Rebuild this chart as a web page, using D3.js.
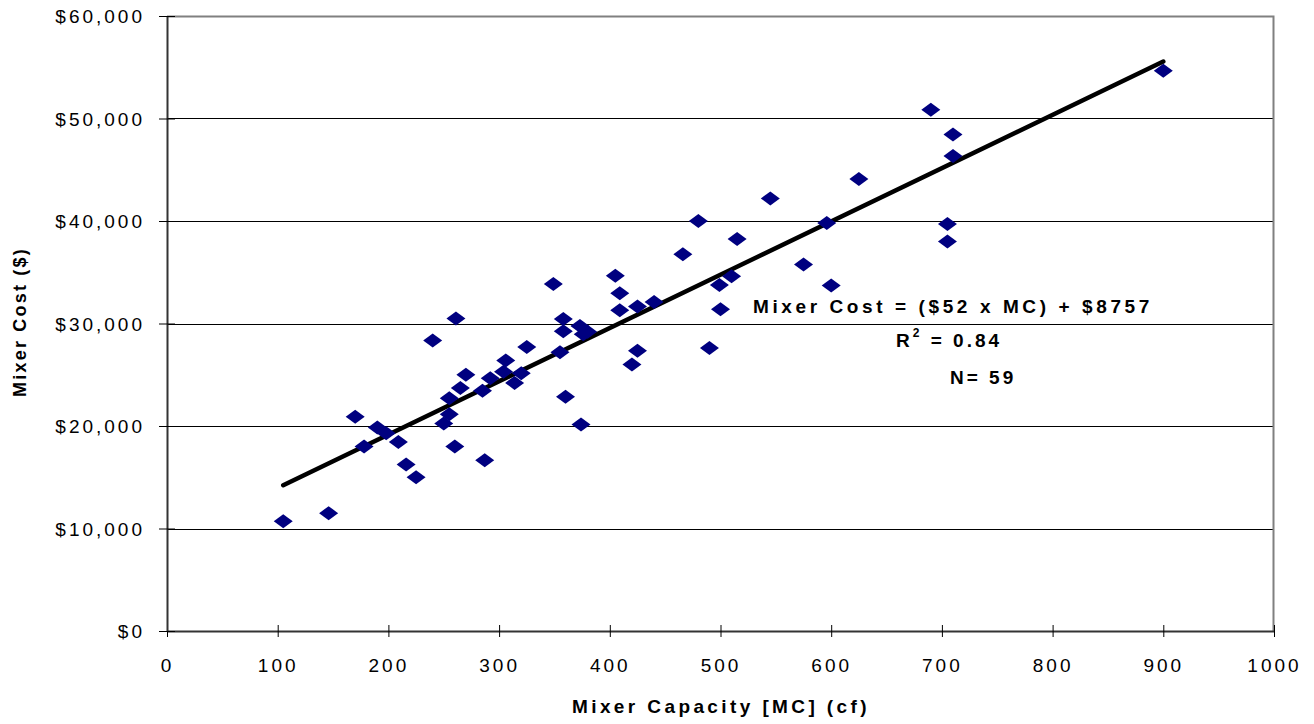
<!DOCTYPE html>
<html>
<head>
<meta charset="utf-8">
<script src="https://cdn.jsdelivr.net/npm/d3@7"></script>
<style>
  body { margin: 0; background: #fff; }
  text { font-family: "Liberation Sans", Arial, sans-serif; fill: #000; }
  .tick text { font-size: 19px; letter-spacing: 3px; }
  .title { font-size: 19px; font-weight: bold; letter-spacing: 3px; }
</style>
</head>
<body>
<script>
// mixer capacity (cf) and cost ($), one entry per mixer
const capacity = [105, 146, 170, 178, 190, 198, 209, 216, 225, 240,
  250, 255, 255, 260, 261, 265, 270, 285, 287, 292,
  304, 306, 314, 320, 325, 349, 355, 358, 358, 360,
  373, 376, 374, 380, 405, 409, 409, 420, 425, 425,
  440, 466, 480, 490, 499, 500, 510, 515, 545, 575,
  596, 600, 625, 690, 705, 705, 710, 710, 900];
const cost = [10700, 11500, 20900, 18000, 19850, 19300, 18450, 16250, 15000, 28350,
  20250, 22700, 21150, 18000, 30500, 23700, 25000, 23450, 16650, 24650,
  25300, 26400, 24200, 25150, 27700, 33850, 27200, 30450, 29250, 22850,
  29750, 28950, 20150, 29200, 34650, 32950, 31300, 26000, 31650, 27350,
  32100, 36750, 40000, 27600, 33750, 31400, 34600, 38250, 42200, 35750,
  39800, 33700, 44100, 50850, 39700, 38000, 48450, 46350, 54650];

// linear fit as printed on the chart
const slope = 52;
const intercept = 8757;

const xTicks = [0, 100, 200, 300, 400, 500, 600, 700, 800, 900, 1000];
const yTicks = [0, 10000, 20000, 30000, 40000, 50000, 60000];

const data = capacity.map((c, i) => ({ x: c, y: cost[i] }));

const width = 1314;
const height = 724;
const margin = { top: 16, right: 40, bottom: 93, left: 167 };
const w = width - margin.left - margin.right;
const h = height - margin.top - margin.bottom;

const svg = d3.select('body').append('svg')
  .attr('width', width)
  .attr('height', height);

const g = svg.append('g')
  .attr('transform', `translate(${margin.left},${margin.top})`);

const x = d3.scaleLinear().domain([0, 1000]).range([0, w]);
const y = d3.scaleLinear().domain([0, 60000]).range([h, 0]);

// horizontal gridlines
g.append('g')
  .selectAll('line')
  .data(yTicks.filter(d => d > 0 && d < 60000))
  .enter().append('line')
  .attr('x1', 0).attr('x2', w)
  .attr('y1', d => Math.round(y(d)) + 0.5)
  .attr('y2', d => Math.round(y(d)) + 0.5)
  .attr('stroke', '#000')
  .attr('stroke-width', 1);

// top and right border
g.append('path')
  .attr('d', `M0,0.5H${w - 0.5}V${h}`)
  .attr('fill', 'none')
  .attr('stroke', '#808080')
  .attr('stroke-width', 2);

// axes
const xAxis = d3.axisBottom(x).tickValues(xTicks).tickSizeInner(6).tickSizeOuter(0).tickPadding(22)
  .tickFormat(d3.format('d'));
const yAxis = d3.axisLeft(y).tickValues(yTicks).tickSizeInner(8).tickSizeOuter(0).tickPadding(14)
  .tickFormat(d => '$' + d3.format(',')(d));

const gx = g.append('g').attr('transform', `translate(0,${h})`).call(xAxis);
const gy = g.append('g').call(yAxis);

[gx, gy].forEach(a => {
  a.select('.domain').attr('stroke', '#333').attr('stroke-width', 2);
  a.selectAll('.tick line').attr('stroke', '#000');
});
// ticks cross the axis line
gx.selectAll('.tick line').attr('y1', -6);
gy.selectAll('.tick line').attr('x1', -8).attr('x2', 8);
gx.selectAll('.tick text').attr('fill', '#000');
gy.selectAll('.tick text').attr('fill', '#000').attr('dy', '0.36em');

// fit line across the data range
const xMin = d3.min(capacity);
const xMax = d3.max(capacity);
g.append('line')
  .attr('x1', x(xMin)).attr('y1', y(slope * xMin + intercept))
  .attr('x2', x(xMax)).attr('y2', y(slope * xMax + intercept))
  .attr('stroke', '#000')
  .attr('stroke-width', 4.5)
  .attr('stroke-linecap', 'round');

// diamond markers
const dw = 9.5;
const dh = 7;
g.selectAll('.dot')
  .data(data)
  .enter().append('path')
  .attr('class', 'dot')
  .attr('d', `M0,${-dh}L${dw},0L0,${dh}L${-dw},0Z`)
  .attr('transform', d => `translate(${x(d.x)},${y(d.y)})`)
  .attr('fill', '#000080');

// axis titles
svg.append('text')
  .attr('class', 'title')
  .attr('x', 721)
  .attr('y', 713)
  .attr('text-anchor', 'middle')
  .style('letter-spacing', '3.4px')
  .text('Mixer Capacity [MC] (cf)');

svg.append('text')
  .attr('class', 'title')
  .attr('transform', 'translate(26,322) rotate(-90)')
  .attr('text-anchor', 'middle')
  .style('font-size', '18px')
  .style('letter-spacing', '2.2px')
  .text('Mixer Cost ($)');

// equation annotation
const note = svg.append('g').attr('class', 'note');
note.append('text')
  .attr('class', 'title')
  .attr('x', 753).attr('y', 313)
  .style('letter-spacing', '3.6px')
  .text(`Mixer Cost = ($${slope} x MC) + $${intercept}`);

const r2 = note.append('text')
  .attr('class', 'title')
  .attr('x', 896).attr('y', 347)
  .style('letter-spacing', '3px');
r2.append('tspan').text('R');
r2.append('tspan').attr('dy', -10).style('font-size', '12px').text('2');
r2.append('tspan').attr('dy', 10).text(' = 0.84');

note.append('text')
  .attr('class', 'title')
  .attr('x', 950).attr('y', 384)
  .style('letter-spacing', '3px')
  .text('N= ' + capacity.length);
</script>
</body>
</html>
